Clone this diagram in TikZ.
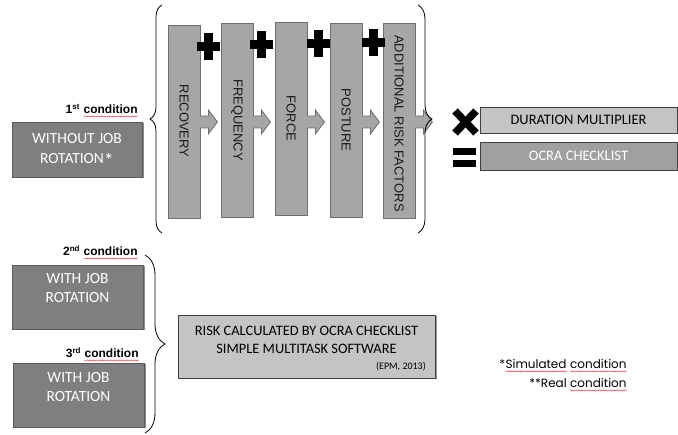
\documentclass[tikz,border=0pt]{standalone}
\usepackage{fontspec}
\setmainfont{Carlito}
\newfontfamily\arialf{Liberation Sans}
\newfontfamily\notef{Poppins}
\usetikzlibrary{shadows,decorations.pathreplacing,decorations.pathmorphing,calc}
\definecolor{boxgray}{HTML}{7F7F7F}
\definecolor{boxedge}{HTML}{5A5A5A}
\definecolor{bargray}{HTML}{A6A6A6}
\definecolor{baredge}{HTML}{6E6E6E}
\definecolor{lightbox}{HTML}{C4C4C4}
\definecolor{midbox}{HTML}{A0A0A0}
\definecolor{edgedark}{HTML}{3F3F3F}
\newcommand\redsq[1]{\tikz[baseline=(sqw.base)]{\node[inner sep=0pt,outer sep=0pt,anchor=base] (sqw) at (0,0) {#1};
  \draw[red!75, line width=.45pt, decorate, decoration={snake, amplitude=.55pt, segment length=2.2pt}] ([yshift=-2.4pt]sqw.base west) -- ([yshift=-2.4pt]sqw.base east);}}
\newcommand\mybararrow[1]{%
  \coordinate (#1a) at (#1.east|-0,122);
  \fill[bargray] ($(#1a)+(-1.5,-6)$) -- ++(9.5,0) -- ++(0,-6) -- ++(9,12) -- ++(-9,12) -- ++(0,-6) -- ++(-9.5,0) -- cycle;
  \draw[baredge, line width=.8pt] ($(#1a)+(0,-6)$) -- ++(8,0) -- ++(0,-6) -- ++(9,12) -- ++(-9,12) -- ++(0,-6) -- ++(-8,0);
}
\begin{document}
\begin{tikzpicture}[x=1pt,y=-1pt,
  darkbox/.style={fill=boxgray, draw=boxedge, line width=.6pt, inner sep=0pt,
    drop shadow={shadow xshift=1.5pt, shadow yshift=-1.5pt, opacity=.45, fill=black}},
  boxtext/.style={text=white, font=\fontsize{15.5}{19.5}\selectfont, align=center, inner sep=0pt},
  barbox/.style={fill=bargray, draw=baredge, line width=.8pt, minimum width=32, inner sep=0pt,
    drop shadow={shadow xshift=1pt, shadow yshift=-1pt, opacity=.35, fill=black}},
  bartext/.style={rotate=-90, font=\arialf\fontsize{13}{14}\selectfont, text=black!90, inner sep=0pt},
  cond/.style={font=\arialf\bfseries\fontsize{12}{14}\selectfont, anchor=base east, inner sep=0pt},
  grayrow/.style={draw=edgedark, line width=.7pt, minimum width=197, inner sep=0pt,
    font=\fontsize{14.5}{17}\selectfont},
  curly/.style={decorate, draw=black, line width=.8pt},
  note/.style={font=\notef\fontsize{12}{14}\selectfont, anchor=base east, inner sep=0pt}
]
\useasboundingbox[fill=white] (0,0) rectangle (678,435);

% ---- first condition
\node[cond] (c1) at (138,114) {1\textsuperscript{st} \redsq{condition}};
\node[darkbox, minimum width=130, minimum height=55] (wo) at (77,149.5) {};
\node[boxtext] (wot) at (77,148.5) {WITHOUT JOB\\ROTATION\smash{\raisebox{-4.5pt}{\fontsize{20}{20}\selectfont*}}};

% ---- left brace
\draw[curly, decoration={brace, amplitude=12}] (162,233) -- (162,5);

% ---- bars
\node[barbox, minimum height=193] (b1) at (184,121.5) {};
\node[barbox, minimum height=194] (b2) at (237,120) {};
\node[barbox, minimum height=193] (b3) at (291,118.5) {};
\node[barbox, minimum height=194] (b4) at (346,120) {};
\node[barbox, minimum height=195] (b5) at (399,120.5) {};
\mybararrow{b1}
\mybararrow{b2}
\mybararrow{b3}
\mybararrow{b4}
\mybararrow{b5}
\node[bartext] (t1) at (184,121) {RECOVERY};
\node[bartext] (t2) at (237,120) {FREQUENCY};
\node[bartext] (t3) at (291,118.5) {FORCE};
\node[bartext] (t4) at (346,120) {POSTURE};
\node[bartext] (t5) at (399,123.5) {ADDITIONAL RISK FACTORS};

% ---- plus signs
\foreach \px/\py in {208/47, 261/45, 318/44, 373/43}{
  \fill[black] (\px-11.5,\py-4.5) rectangle (\px+11.5,\py+4.5);
  \fill[black] (\px-4.5,\py-13.5) rectangle (\px+4.5,\py+13.5);
}

% ---- right brace
\draw[curly, decoration={brace, amplitude=14}] (418,5) -- (418,233);

% ---- times and equals
\draw[black, line width=7.5pt] (455,111) -- (476,133);
\draw[black, line width=7.5pt] (455,133) -- (476,111);
\fill[black] (453,148) rectangle (476,155);
\fill[black] (453,160) rectangle (476,167);

\node[grayrow, fill=lightbox, minimum height=26, text=black] (dm) at (578.5,120) {DURATION MULTIPLIER};
\node[grayrow, fill=midbox, minimum height=28, text=white] (oc) at (578.5,156) {OCRA CHECKLIST};

% ---- second and third conditions
\node[cond] (c2) at (138,256) {2\textsuperscript{nd} \redsq{condition}};
\node[darkbox, minimum width=131, minimum height=64] (wr1) at (77.5,297) {};
\node[boxtext] (wr1t) at (77.5,288) {WITH JOB\\ROTATION};
\node[cond] (c3) at (139,358) {3\textsuperscript{rd} \redsq{condition}};
\node[darkbox, minimum width=131, minimum height=64] (wr2) at (78.5,395) {};
\node[boxtext] (wr2t) at (78.5,387) {WITH JOB\\ROTATION};

\draw[curly, decoration={brace, amplitude=20}] (145,255) -- (145,433);

% ---- risk box
\node[fill=lightbox, draw=edgedark, line width=.8pt, minimum width=257, minimum height=63, inner sep=0pt,
  drop shadow={shadow xshift=1.5pt, shadow yshift=-1.5pt, opacity=.4, fill=black}] (risk) at (306.5,346.5) {};
\node[font=\fontsize{14.4}{17.5}\selectfont, align=center, inner sep=0pt] (riskt) at (306.5,340) {RISK CALCULATED BY OCRA CHECKLIST\\SIMPLE MULTITASK SOFTWARE};
\node[font=\fontsize{10}{12}\selectfont, anchor=base east, inner sep=0pt] (epm) at (426,370) {(EPM, 2013)};

% ---- notes
\node[note] (n1) at (627,369) {*\redsq{Simulated} \redsq{condition}};
\node[note] (n2) at (627,388) {**Real \redsq{condition}};
\end{tikzpicture}
\end{document}
